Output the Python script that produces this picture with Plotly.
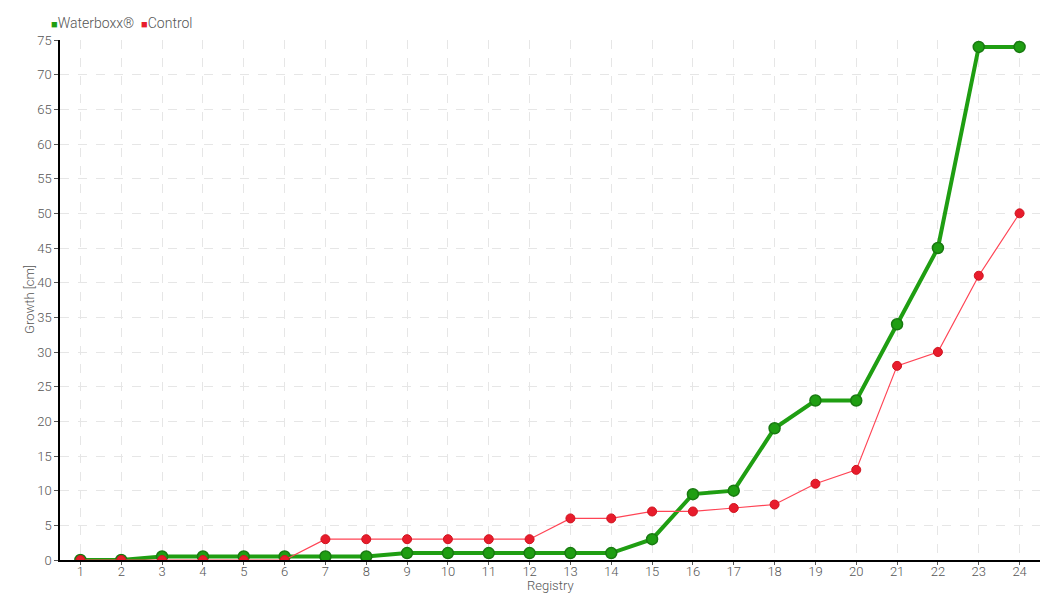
import plotly.graph_objects as go

registry = list(range(1, 25))
waterboxx = [0, 0, 0.5, 0.5, 0.5, 0.5, 0.5, 0.5, 1, 1, 1, 1, 1, 1, 3, 9.5, 10, 19, 23, 23, 34, 45, 74, 74]
control = [0, 0, 0, 0, 0, 0, 3, 3, 3, 3, 3, 3, 6, 6, 7, 7, 7.5, 8, 11, 13, 28, 30, 41, 50]
series_names = ["Waterboxx®", "Control"]

FONT = "Roboto, DejaVu Sans, sans-serif"
GREEN = "#1f9e12"
RED = "#e81c2c"
TXT = "#555555"

fig = go.Figure()
fig.add_trace(go.Scatter(
    x=registry, y=waterboxx, name=series_names[0], mode="lines+markers", showlegend=False,
    line=dict(color=GREEN, width=4),
    marker=dict(size=11, color=GREEN, line=dict(color="#187a10", width=1.5)),
))
fig.add_trace(go.Scatter(
    x=registry, y=control, name=series_names[1], mode="lines+markers", showlegend=False,
    line=dict(color="#ff4455", width=1.2),
    marker=dict(size=9, color=RED, line=dict(color="#d0141f", width=1)),
))

# legend drawn as text with coloured square swatches
legend_text = (f"<span style='color:{GREEN};font-size:11px'>■</span>{series_names[0]}  "
               f"<span style='color:{RED};font-size:11px'>■</span>{series_names[1]}")
fig.add_annotation(text=legend_text, xref="paper", yref="paper", x=-0.011, y=1.0,
                   xanchor="left", yanchor="bottom", yshift=7, showarrow=False,
                   font=dict(family=FONT, size=14, color=TXT, weight=300))
# axis titles
fig.add_annotation(text="Growth [cm]", xref="paper", yref="paper", x=0, y=0.5,
                   xanchor="center", yanchor="middle", xshift=-31, textangle=-90,
                   showarrow=False, font=dict(family=FONT, size=13, color=TXT, weight=300))
fig.add_annotation(text="Registry", xref="paper", yref="paper", x=0.5, y=0,
                   xanchor="center", yanchor="top", yshift=-16,
                   showarrow=False, font=dict(family=FONT, size=13, color=TXT, weight=300))

grid = dict(showgrid=True, gridcolor="#e6e6e6", griddash="dash", gridwidth=1)
fig.update_layout(
    width=1052, height=592,
    margin=dict(l=52, r=20, t=32, b=40, autoexpand=False),
    paper_bgcolor="white", plot_bgcolor="white",
    font=dict(family=FONT, size=14, color=TXT, weight=300),
    showlegend=False,
    xaxis=dict(range=[0.5, 24.5], tickmode="array", tickvals=registry,
               ticktext=[str(r) for r in registry], automargin=False,
               showline=True, linecolor="black", linewidth=1.5,
               ticks="outside", ticklen=3, tickcolor="#555",
               ticklabelstandoff=-4,
               tickfont=dict(size=13, weight=300),
               zeroline=False, **grid),
    yaxis=dict(range=[0, 75], dtick=5, automargin=False,
               showline=True, linecolor="black", linewidth=1.5,
               ticks="outside", ticklen=4, tickcolor="#555",
               tickfont=dict(size=13, weight=300),
               zeroline=False, **grid),
)

fig.write_html("out.html")
